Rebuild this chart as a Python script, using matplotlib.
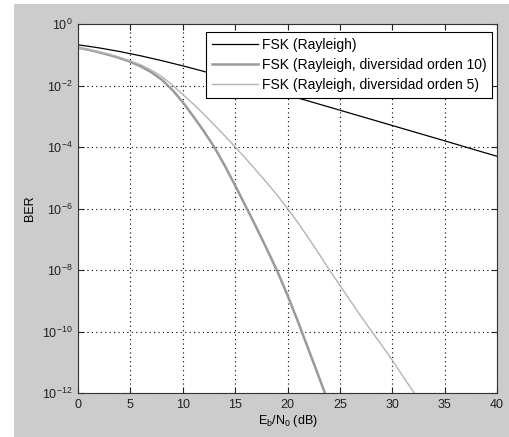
import numpy as np
import matplotlib
matplotlib.use('Agg')
import matplotlib.pyplot as plt
from matplotlib.patches import Rectangle

plt.rcParams['font.family'] = ['Liberation Sans', 'DejaVu Sans']
plt.rcParams['mathtext.default'] = 'regular'

# Data (BER as log10 values)
ebn0_black = [0, 2, 4, 6, 8, 10, 12, 14, 16, 18, 20, 22, 24, 26, 28, 30, 32, 34, 36, 38, 40]
ber_black = [0.211, 0.1675, 0.127, 0.0921, 0.0643, 0.0436, 0.0288, 0.0188, 0.0121, 0.00773,
             0.00492, 0.003125, 0.00198, 0.00125, 0.000791, 0.0005, 0.000316, 0.0002,
             0.000126, 7.9e-5, 5.0e-5]

ebn0_div10 = list(range(0, 25))
log_ber_div10 = [-0.77, -0.84, -0.92, -1.01, -1.11, -1.23, -1.38, -1.57, -1.81, -2.14,
                 -2.54, -3.0, -3.48, -4.0, -4.6, -5.25, -5.92, -6.6, -7.3, -8.02,
                 -8.82, -9.68, -10.58, -11.48, -12.4]

ebn0_div5 = list(range(0, 34))
log_ber_div5 = [-0.77, -0.83, -0.9, -0.99, -1.09, -1.2, -1.33, -1.5, -1.71, -1.98,
                -2.29, -2.6, -2.93, -3.28, -3.63, -4.0, -4.37, -4.76, -5.15, -5.56,
                -6.0, -6.46, -6.96, -7.47, -8.0, -8.5, -9.0, -9.5, -9.98, -10.45,
                -10.93, -11.45, -11.95, -12.45]

labels = ['FSK (Rayleigh)',
          'FSK (Rayleigh, diversidad orden 10)',
          'FSK (Rayleigh, diversidad orden 5)']

fig = plt.figure(figsize=(5.10, 4.37), dpi=100, facecolor='white')
# gray MATLAB figure area (screenshot has a white strip on the left/top)
fig.patches.append(Rectangle((14 / 510, 0), 1 - 14 / 510, 1 - 4 / 437,
                             transform=fig.transFigure, facecolor='#cccccc',
                             edgecolor='none', zorder=-10))

ax = fig.add_axes([78 / 510, 1 - 393 / 437, (497 - 78) / 510, (393 - 24) / 437])
ax.set_facecolor('white')

ax.semilogy(ebn0_black, ber_black, color='black', lw=0.9, label=labels[0])
ax.semilogy(ebn0_div10, 10.0 ** np.array(log_ber_div10), color='#9a9a9a', lw=1.8, label=labels[1])
ax.semilogy(ebn0_div5, 10.0 ** np.array(log_ber_div5), color='#b4b4b4', lw=1.0, label=labels[2])

ax.set_xlim(0, 40)
ax.set_ylim(1e-12, 1)
ax.set_xticks(range(0, 41, 5))
ax.set_yticks([10.0 ** k for k in range(-12, 1, 2)])
ax.yaxis.set_minor_locator(matplotlib.ticker.NullLocator())
ax.grid(True, which='major', color='black', linestyle=(0, (1, 3)), lw=0.8)
ax.tick_params(direction='in', top=True, right=True, labelsize=9, length=4,
               width=0.8, colors='#222222', pad=4)
for s in ax.spines.values():
    s.set_color('#333333')
    s.set_linewidth(0.8)

ax.set_ylabel('BER', fontsize=9, labelpad=4)
ax.set_xlabel('E$_b$/N$_0$ (dB)', fontsize=9, labelpad=2)

leg = ax.legend(loc='upper right', bbox_to_anchor=(0.988, 0.978), borderaxespad=0,
                fontsize=10, fancybox=False, framealpha=1, edgecolor='black',
                handlelength=3.3, handletextpad=0.3, labelspacing=0.45,
                borderpad=0.4)
leg.get_frame().set_linewidth(0.8)

fig.savefig('out.png', dpi=100, facecolor=fig.get_facecolor())
